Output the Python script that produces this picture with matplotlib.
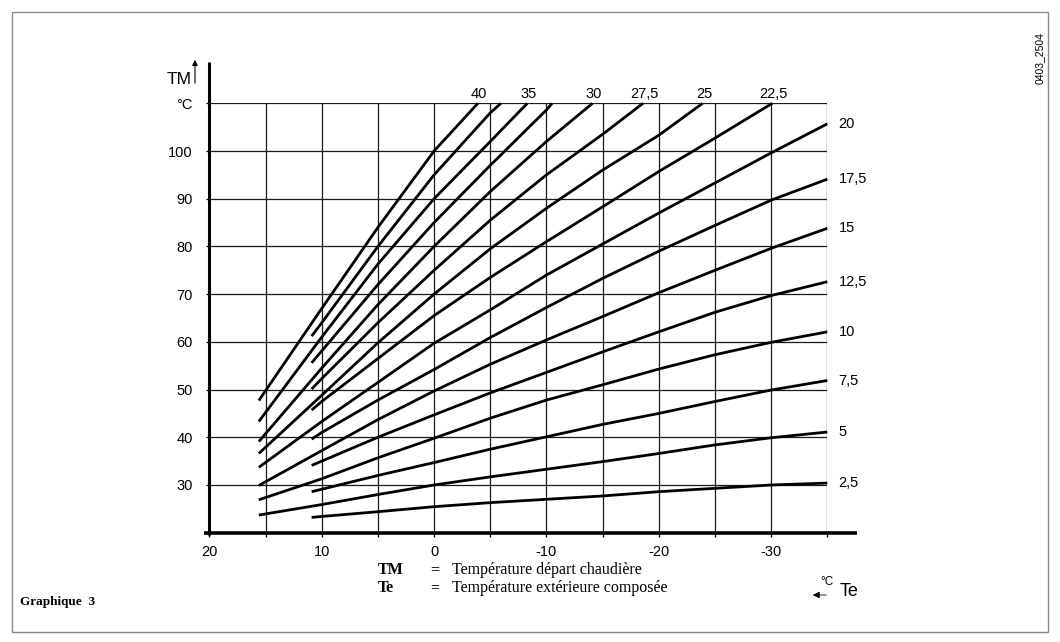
import matplotlib
matplotlib.use("Agg")
import matplotlib.pyplot as plt
from matplotlib.patches import Rectangle

# ---- heating curves: outdoor temp Te (x) vs boiler flow temp TM (y) ----
# curves that start on the left (Te ~15.6) or a bit later (Te ~10.9)
te_40 = [15.6, 10, 5, 0, -3.9]
tm_40 = [47.7, 67.0, 84.0, 100.0, 110.0]
te_37 = [10.9, 10, 5, 0, -5, -5.95]
tm_37 = [61.2, 64.0, 80.0, 95.0, 108.0, 110.0]
te_35 = [15.6, 10, 5, 0, -5, -8.3]
tm_35 = [43.3, 61.0, 76.3, 90.0, 102.0, 110.0]
te_32 = [10.9, 10, 5, 0, -5, -10, -10.5]
tm_32 = [55.6, 58.1, 72.0, 85.0, 97.0, 108.6, 110.0]
te_30 = [15.6, 10, 5, 0, -5, -10, -14.1]
tm_30 = [39.1, 54.5, 67.8, 80.0, 91.5, 102.0, 110.0]
te_27 = [10.9, 10, 5, 0, -5, -10, -15, -18.6]
tm_27 = [50.1, 52.3, 64.0, 75.0, 85.5, 95.0, 103.5, 110.0]
te_25 = [15.6, 10, 5, 0, -5, -10, -15, -20, -23.9]
tm_25 = [36.6, 48.8, 59.8, 70.0, 79.5, 88.0, 96.0, 103.3, 110.0]
te_22 = [10.9, 10, 5, 0, -5, -10, -15, -20, -25, -30.1]
tm_22 = [45.7, 47.5, 56.5, 65.5, 73.5, 81.0, 88.3, 95.7, 102.7, 110.0]

te_left = [15.6, 10, 5, 0, -5, -10, -15, -20, -25, -30, -35]
te_right = [10.9, 10, 5, 0, -5, -10, -15, -20, -25, -30, -35]
tm_20 = [33.7, 43.3, 51.5, 59.7, 66.7, 74.0, 80.5, 87.0, 93.3, 99.6, 105.7]
tm_17 = [39.6, 41.0, 47.8, 54.2, 60.9, 67.2, 73.3, 79.0, 84.4, 89.7, 94.1]
tm_15 = [29.9, 37.2, 43.7, 49.7, 55.3, 60.4, 65.3, 70.3, 75.0, 79.6, 83.8]
tm_12 = [34.1, 35.0, 40.0, 44.7, 49.3, 53.6, 57.9, 62.1, 66.2, 69.7, 72.6]
tm_10 = [26.9, 31.3, 35.7, 39.8, 44.0, 47.8, 51.0, 54.3, 57.3, 59.9, 62.1]
tm_7 = [28.6, 29.1, 32.0, 34.7, 37.5, 40.1, 42.7, 45.0, 47.5, 49.9, 51.9]
tm_5 = [23.7, 25.9, 28.0, 30.0, 31.7, 33.3, 34.9, 36.6, 38.4, 39.9, 41.1]
tm_2 = [23.2, 23.4, 24.4, 25.45, 26.3, 27.0, 27.7, 28.6, 29.3, 30.0, 30.4]

top_labels = ["40", "35", "30", "27,5", "25", "22,5"]
right_labels = ["20", "17,5", "15", "12,5", "10", "7,5", "5", "2,5"]

x_ticks = [20, 15, 10, 5, 0, -5, -10, -15, -20, -25, -30, -35]
x_ticklabels = ["20", "", "10", "", "0", "", "-10", "", "-20", "", "-30", ""]
y_ticks = [30, 40, 50, 60, 70, 80, 90, 100, 110]
y_ticklabels = ["30", "40", "50", "60", "70", "80", "90", "100", "°C"]

curves = [
    ("40", te_40, tm_40), ("37,5", te_37, tm_37), ("35", te_35, tm_35),
    ("32,5", te_32, tm_32), ("30", te_30, tm_30), ("27,5", te_27, tm_27),
    ("25", te_25, tm_25), ("22,5", te_22, tm_22),
    ("20", te_left, tm_20), ("17,5", te_right, tm_17), ("15", te_left, tm_15),
    ("12,5", te_right, tm_12), ("10", te_left, tm_10), ("7,5", te_right, tm_7),
    ("5", te_left, tm_5), ("2,5", te_right, tm_2),
]

sans = "Liberation Sans"
serif = "Liberation Serif"

W, H = 1060, 642
fig = plt.figure(figsize=(W / 100, H / 100), dpi=100)
fig.patch.set_facecolor("white")

# outer frame
fig.patches.append(Rectangle((12 / W, 1 - 632 / H), 1036 / W, 620 / H,
                             transform=fig.transFigure, fill=False,
                             edgecolor="#8a8a8a", lw=1.0))

ax = fig.add_axes([209.4 / W, 1 - 532.7 / H, (827.3 - 209.4) / W, (532.7 - 103.3) / H])
ax.set_xlim(20, -35)
ax.set_ylim(20, 110)
for s in ax.spines.values():
    s.set_visible(False)

# grid + frame
ax.vlines(x_ticks[1:], 20, 110, color="#1a1a1a", lw=0.9)
ax.hlines(y_ticks, 20, -35, color="#1a1a1a", lw=0.9)

# axes with arrows
ax.plot([20, 20], [19.6, 118.7], color="black", lw=2.2, clip_on=False, solid_capstyle="butt")
ax.plot([20.5, -37.6], [20, 20], color="black", lw=2.6, clip_on=False, solid_capstyle="butt")

ax.set_xticks(x_ticks)
ax.set_xticklabels(x_ticklabels)
ax.set_yticks(y_ticks)
ax.set_yticklabels(y_ticklabels)
ax.tick_params(axis="x", direction="out", length=3, width=1, pad=6, labelsize=10.5)
ax.tick_params(axis="y", direction="out", length=2, width=0.9, pad=10, labelsize=10.5)
for lab in ax.get_xticklabels() + ax.get_yticklabels():
    lab.set_fontfamily(sans)

for name, te, tm in curves:
    ax.plot(te, tm, color="black", lw=2.0, solid_capstyle="butt", clip_on=False)
    if name in top_labels:
        ax.annotate(name, (te[-1], tm[-1]), xytext=(1, 1.5), textcoords="offset points",
                    ha="center", va="bottom", fontsize=10.5, fontfamily=sans)
    if name in right_labels:
        ax.annotate(name, (te[-1], tm[-1]), xytext=(8, 0), textcoords="offset points",
                    ha="left", va="center", fontsize=10.5, fontfamily=sans)

# axis titles
fig.text(192 / W, 1 - 79 / H, "TM", ha="right", va="center", fontsize=12.5, fontfamily=sans)
ax.annotate("", xy=(195 / W, 1 - 57 / H), xytext=(195 / W, 1 - 86 / H),
            xycoords="figure fraction", textcoords="figure fraction",
            arrowprops=dict(arrowstyle="-|>", lw=0.8, color="black", mutation_scale=8))
ax.annotate("", xy=(810 / W, 1 - 595 / H), xytext=(829 / W, 1 - 595 / H),
            xycoords="figure fraction", textcoords="figure fraction",
            arrowprops=dict(arrowstyle="-|>", lw=0.6, color="black", mutation_scale=10))
fig.text(827 / W, 1 - 582 / H, "°C", ha="center", va="center", fontsize=8.5, fontfamily=sans)
fig.text(840 / W, 1 - 591 / H, "Te", ha="left", va="center", fontsize=13, fontfamily=sans)

# legend lines
fs_leg = 11.5
row1, row2 = 570, 588
fig.text(378 / W, 1 - row1 / H, "TM", ha="left", va="center", fontsize=fs_leg,
         fontfamily=serif, fontweight="bold")
fig.text(430 / W, 1 - row1 / H, "=", ha="left", va="center", fontsize=fs_leg,
         fontfamily=serif, fontweight="bold")
fig.text(452 / W, 1 - row1 / H, "Température départ chaudière", ha="left", va="center",
         fontsize=fs_leg, fontfamily=serif)
fig.text(378 / W, 1 - row2 / H, "Te", ha="left", va="center", fontsize=fs_leg,
         fontfamily=serif, fontweight="bold")
fig.text(430 / W, 1 - row2 / H, "=", ha="left", va="center", fontsize=fs_leg,
         fontfamily=serif, fontweight="bold")
fig.text(452 / W, 1 - row2 / H, "Température extérieure composée", ha="left", va="center",
         fontsize=fs_leg, fontfamily=serif)

fig.text(20 / W, 1 - 602 / H, "Graphique  3", ha="left", va="center", fontsize=9.5,
         fontfamily=serif, fontweight="bold")
fig.text(1040 / W, 1 - 58 / H, "0403_2504", ha="center", va="center", fontsize=7.5,
         fontfamily=sans, rotation=90)

fig.savefig("out.png", dpi=100, facecolor="white")
